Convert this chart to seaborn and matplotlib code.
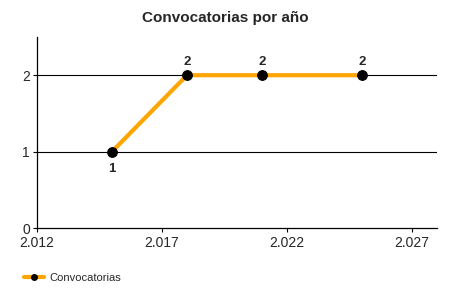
import matplotlib
matplotlib.use("Agg")
import matplotlib.pyplot as plt
import seaborn as sns
import pandas as pd
from matplotlib.ticker import FuncFormatter, MultipleLocator
from matplotlib.lines import Line2D

years = [2015, 2018, 2021, 2025]
counts = [1, 2, 2, 2]
x_ticks = [2012, 2017, 2022, 2027]
series_name = "Convocatorias"
title = "Convocatorias por año"

sns.set_style("white")
plt.rcParams['font.family'] = ['Liberation Sans', 'DejaVu Sans']

df = pd.DataFrame({"year": years, "count": counts})

fig = plt.figure(figsize=(4.5, 3), dpi=100)
ax = fig.add_axes([37/450, 72/300, 400/450, 191/300])

sns.lineplot(data=df, x="year", y="count", ax=ax, color="#FFA500", linewidth=3,
             marker="o", markersize=7, markerfacecolor="black", markeredgecolor="black",
             zorder=3)

ax.set_xlim(2012, 2028)
ax.set_ylim(0, 2.5)
ax.set_xticks(x_ticks)
ax.yaxis.set_major_locator(MultipleLocator(1))
ax.xaxis.set_major_formatter(FuncFormatter(lambda v, p: f"{int(round(v)):,}".replace(",", ".")))
ax.yaxis.set_major_formatter(FuncFormatter(lambda v, p: f"{int(v)}"))
ax.set_xlabel("")
ax.set_ylabel("")

for y in [1, 2]:
    ax.axhline(y, color="black", linewidth=0.8, zorder=1)

for s in ["top", "right"]:
    ax.spines[s].set_visible(False)
for s in ["left", "bottom"]:
    ax.spines[s].set_color("black")
    ax.spines[s].set_linewidth(0.9)

ax.tick_params(axis="both", which="major", length=3, width=0.8, color="black",
               labelsize=10, direction="out", bottom=True, left=True)
ax.tick_params(axis="x", pad=3)
ax.tick_params(axis="y", pad=2)

for i, (x, y) in enumerate(zip(years, counts)):
    if i == 0:
        ax.annotate(str(y), (x, y), xytext=(0, -8), textcoords="offset points",
                    ha="center", va="top", fontsize=9.5, fontweight="bold")
    else:
        ax.annotate(str(y), (x, y), xytext=(0, 5), textcoords="offset points",
                    ha="center", va="bottom", fontsize=9.5, fontweight="bold")

fig.text(0.5, 1 - 18/300, title, ha="center", va="center", fontsize=11, fontweight="bold")

handle = Line2D([], [], color="#FFA500", linewidth=3, marker="o", markersize=4,
                markerfacecolor="black", markeredgecolor="black")
fig.legend([handle], [series_name], loc="center left", bbox_to_anchor=(0.03, 1 - 278/300),
           frameon=False, fontsize=8, handlelength=1.8, handletextpad=0.5)

fig.savefig("out.png", dpi=100)
